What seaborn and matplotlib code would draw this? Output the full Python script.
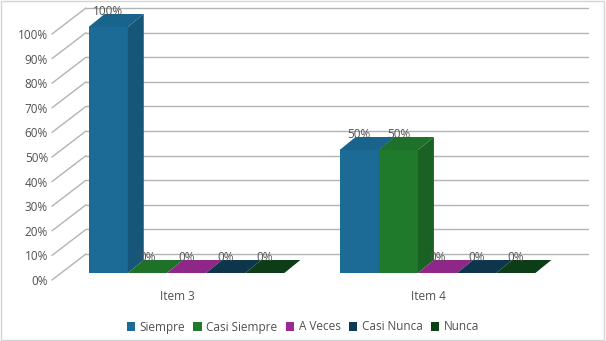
import numpy as np
import pandas as pd
import matplotlib
matplotlib.use('Agg')
import matplotlib.pyplot as plt
import matplotlib.transforms as mtransforms
from matplotlib.patches import Polygon, Rectangle
from matplotlib.colors import to_rgb
import seaborn as sns

# ------------------------------
# data
# ------------------------------
items = ['Item 3', 'Item 4']
answers = ['Siempre', 'Casi Siempre', 'A Veces', 'Casi Nunca', 'Nunca']
item3_pct = [100, 0, 0, 0, 0]
item4_pct = [50, 50, 0, 0, 0]
y_ticks = list(range(0, 101, 10))
colors = ['#1b6b96', '#1f7a2c', '#9a2a92', '#0e3a53', '#0d4218']

df = pd.DataFrame({
    'item': [items[0]] * 5 + [items[1]] * 5,
    'answer': answers * 2,
    'pct': item3_pct + item4_pct,
})

sns.set_style('white')
plt.rcParams['font.family'] = ['Open Sans', 'DejaVu Sans']
text_col = '#505050'
grid_col = '#b3b3b3'
fs = 8.5

W, H = 606, 341
fig = plt.figure(figsize=(W / 100, H / 100), dpi=100)
ax = fig.add_axes([61 / W, (H - 273) / H, 502 / W, 246 / H])

sns.barplot(data=df, x='item', y='pct', hue='answer', palette=colors,
            saturation=1, width=0.78, ax=ax, linewidth=0, edgecolor='none')
ax.set_xlim(-0.5, 1.5)
ax.set_ylim(0, 100)
ax.patch.set_visible(False)
for s in ax.spines.values():
    s.set_visible(False)
ax.set_xlabel('')
ax.set_ylabel('')

# pixel -> data helpers
px_x = 502 / 2.0
px_y = 246 / 100.0
def off(dx, dy):
    return dx / px_x, dy / px_y

bdx, bdy = off(16, 13)    # bar depth
wdx, wdy = off(25, 19)    # back wall
fdx, fdy = off(-9, -7)    # front plane

# back wall grid + diagonal floor lines
for v in y_ticks:
    ax.plot([-0.5 + wdx, 1.5 + wdx], [v + wdy, v + wdy], color=grid_col,
            lw=1.0, clip_on=False, zorder=0.5)
    ax.plot([-0.5 + fdx, -0.5 + wdx], [v + fdy, v + wdy], color=grid_col,
            lw=1.0, clip_on=False, zorder=0.5)

def shade(c, f):
    r, g, b = to_rgb(c)
    return (r * f, g * f, b * f)

# 3d faces on every bar
bars = sorted([p for cont in ax.containers for p in cont], key=lambda p: p.get_x())
for k, p in enumerate(bars):
    x0 = p.get_x()
    x1 = x0 + p.get_width()
    h = p.get_height()
    c = p.get_facecolor()
    z = 3 + k * 0.1
    p.set_zorder(z)
    p.set_clip_on(False)
    top = Polygon([(x0, h), (x1, h), (x1 + bdx, h + bdy), (x0 + bdx, h + bdy)],
                  closed=True, facecolor=shade(c, 0.93), edgecolor='none',
                  clip_on=False, zorder=z + 0.05)
    side = Polygon([(x1, 0), (x1, h), (x1 + bdx, h + bdy), (x1 + bdx, bdy)],
                   closed=True, facecolor=shade(c, 0.8), edgecolor='none',
                   clip_on=False, zorder=z + 0.05)
    ax.add_patch(side)
    ax.add_patch(top)
    ax.annotate(f'{h:.0f}%', (x0 + (x1 - x0) / 2, h), xytext=(0, 11.5),
                textcoords='offset points', ha='center', va='center',
                fontsize=fs, color=text_col, zorder=10, annotation_clip=False)

# ticks, shifted to the front plane
ax.set_yticks(y_ticks)
ax.set_yticklabels([f'{v}%' for v in y_ticks])
ax.tick_params(axis='y', length=0, pad=2.9, labelsize=fs, labelcolor=text_col)
ax.tick_params(axis='x', length=0, pad=7, labelsize=fs, labelcolor=text_col)
shift = mtransforms.ScaledTranslation(-9 / 100, -7 / 100, fig.dpi_scale_trans)
for lab in ax.get_yticklabels() + ax.get_xticklabels():
    lab.set_transform(lab.get_transform() + shift)

handles, labels = ax.get_legend_handles_labels()
ax.get_legend().remove()
fig.legend(handles, labels, loc='center', bbox_to_anchor=(0.5, (H - 327) / H),
           ncol=5, frameon=False, fontsize=fs, labelcolor=text_col,
           handlelength=0.7, handleheight=0.7, handletextpad=0.4,
           columnspacing=0.7, borderaxespad=0)

fig.patches.append(Rectangle((1 / W, 1.5 / H), 603 / W, 338.5 / H,
                             transform=fig.transFigure, fill=False,
                             edgecolor='#d4d4d4', lw=1))

fig.savefig('out.png', dpi=100)
